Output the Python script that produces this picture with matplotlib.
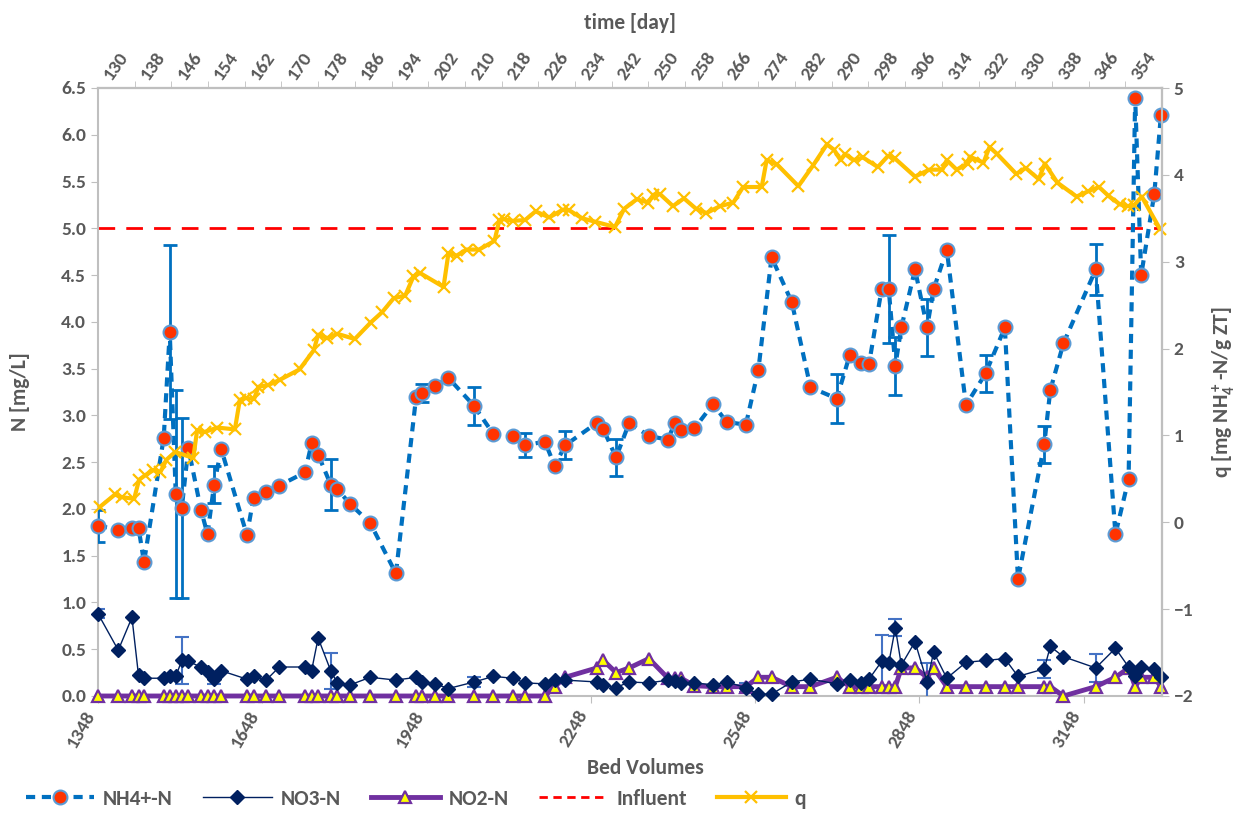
import matplotlib
matplotlib.use('Agg')
import matplotlib.pyplot as plt
from matplotlib.lines import Line2D
from matplotlib import font_manager
import numpy as np

# bold Calibri look-alike if present, else fall back
names = {f.name for f in font_manager.fontManager.ttflist}
fam = [n for n in ['Carlito', 'Lato', 'Roboto'] if n in names] + ['DejaVu Sans']
plt.rcParams['font.family'] = fam
plt.rcParams['font.weight'] = 'bold'
plt.rcParams['mathtext.fontset'] = 'custom'
plt.rcParams['mathtext.rm'] = fam[0] + ':bold'
plt.rcParams['mathtext.default'] = 'rm'

GREY_TXT = '#595959'
GREY_AX = '#BFBFBF'

# Bed volumes of the N samples (shared by NH4, NO3, NO2)
bv = [1348, 1385, 1410, 1422, 1432, 1468, 1479, 1490, 1501, 1513,
      1536, 1548, 1560, 1573, 1620, 1632, 1655, 1679, 1726, 1738,
      1750, 1773, 1785, 1809, 1845, 1892, 1929, 1939, 1963, 1988,
      2035, 2070, 2105, 2128, 2164, 2182, 2201, 2259, 2271, 2294,
      2318, 2354, 2389, 2401, 2413, 2437, 2471, 2496, 2531, 2554,
      2578, 2615, 2649, 2697, 2721, 2742, 2756, 2779, 2792, 2804,
      2815, 2840, 2862, 2874, 2898, 2933, 2969, 3004, 3028, 3076,
      3087, 3111, 3170, 3206, 3230, 3242, 3253, 3277, 3289]

nh4 = [1.82, 1.78, 1.80, 1.80, 1.43, 2.76, 3.89, 2.16, 2.01, 2.65,
       1.99, 1.73, 2.26, 2.64, 1.72, 2.12, 2.18, 2.25, 2.39, 2.70,
       2.58, 2.26, 2.21, 2.05, 1.85, 1.31, 3.20, 3.24, 3.31, 3.40,
       3.10, 2.80, 2.78, 2.68, 2.72, 2.46, 2.68, 2.92, 2.85, 2.55,
       2.92, 2.78, 2.74, 2.92, 2.84, 2.86, 3.12, 2.93, 2.90, 3.49,
       4.69, 4.21, 3.30, 3.18, 3.65, 3.56, 3.55, 4.35, 4.35, 3.53,
       3.94, 4.56, 3.94, 4.35, 4.77, 3.11, 3.45, 3.94, 1.25, 2.69,
       3.27, 3.77, 4.56, 1.73, 2.32, 6.39, 4.50, 5.37, 6.21]

nh4_err = [0.17, 0, 0, 0, 0, 0, 0.93, 1.11, 0.96, 0,
           0, 0, 0.20, 0, 0, 0, 0, 0, 0, 0,
           0, 0.27, 0, 0, 0, 0, 0, 0.10, 0, 0,
           0.20, 0, 0, 0.13, 0, 0, 0.15, 0, 0, 0.20,
           0, 0, 0, 0, 0, 0, 0, 0, 0, 0,
           0, 0, 0, 0.26, 0, 0, 0, 0, 0.58, 0.31,
           0, 0, 0.30, 0, 0, 0, 0.20, 0, 0, 0.20,
           0, 0, 0.27, 0, 0, 0, 0, 0, 0]

no3 = [0.88, 0.49, 0.84, 0.22, 0.19, 0.19, 0.21, 0.21, 0.38, 0.37,
       0.31, 0.26, 0.18, 0.27, 0.18, 0.21, 0.17, 0.31, 0.31, 0.27,
       0.62, 0.27, 0.14, 0.12, 0.20, 0.17, 0.20, 0.15, 0.13, 0.08,
       0.15, 0.21, 0.19, 0.14, 0.13, 0.17, 0.17, 0.15, 0.12, 0.09,
       0.15, 0.14, 0.17, 0.16, 0.14, 0.14, 0.12, 0.15, 0.09, 0.02,
       0.02, 0.15, 0.18, 0.13, 0.17, 0.14, 0.18, 0.37, 0.35, 0.73,
       0.33, 0.58, 0.15, 0.47, 0.19, 0.36, 0.38, 0.40, 0.21, 0.29,
       0.53, 0.42, 0.30, 0.51, 0.31, 0.21, 0.31, 0.29, 0.20]

no3_err = [0.05, 0, 0, 0, 0, 0, 0, 0, 0.25, 0,
           0, 0, 0.05, 0, 0, 0, 0, 0, 0, 0,
           0, 0.19, 0, 0, 0, 0, 0, 0, 0, 0,
           0.05, 0, 0, 0, 0, 0, 0, 0, 0, 0,
           0, 0, 0, 0, 0, 0, 0, 0, 0.05, 0,
           0, 0, 0, 0, 0, 0, 0, 0.28, 0, 0.09,
           0, 0, 0.20, 0, 0, 0, 0, 0, 0, 0.10,
           0, 0, 0.15, 0, 0, 0, 0, 0, 0]

no2 = [0, 0, 0, 0, 0, 0, 0, 0, 0, 0,
       0, 0, 0, 0, 0, 0, 0, 0, 0, 0,
       0, 0, 0, 0, 0, 0, 0, 0, 0, 0,
       0, 0, 0, 0, 0, 0.10, 0.20, 0.30, 0.38, 0.25,
       0.30, 0.40, 0.19, 0.19, 0.19, 0.11, 0.10, 0.10, 0.10, 0.20,
       0.20, 0.10, 0.10, 0.20, 0.10, 0.10, 0.10, 0.10, 0.10, 0.10,
       0.30, 0.30, 0.20, 0.30, 0.10, 0.10, 0.10, 0.10, 0.10, 0.10,
       0.10, 0.00, 0.10, 0.20, 0.30, 0.10, 0.20, 0.20, 0.10]

influent = 5.0

# loading q on the secondary axis
q_bv = [1352, 1379, 1391, 1414, 1423, 1434, 1449, 1462, 1473, 1489,
        1522, 1529, 1543, 1566, 1598, 1607, 1618, 1633, 1641, 1659,
        1680, 1716, 1742, 1750, 1767, 1785, 1817, 1846, 1867, 1888,
        1909, 1924, 1936, 1979, 1988, 2003, 2021, 2044, 2072, 2081,
        2089, 2105, 2128, 2147, 2172, 2197, 2209, 2232, 2256, 2292,
        2309, 2332, 2353, 2362, 2374, 2398, 2418, 2440, 2459, 2484,
        2508, 2526, 2560, 2569, 2588, 2627, 2654, 2679, 2692, 2704,
        2712, 2728, 2745, 2772, 2791, 2803, 2840, 2866, 2890, 2898,
        2916, 2936, 2940, 2965, 2976, 2990, 3025, 3042, 3066, 3077,
        3100, 3135, 3156, 3176, 3193, 3214, 3229, 3240, 3254, 3287]
q_val = [0.18, 0.32, 0.29, 0.27, 0.49, 0.54, 0.60, 0.58, 0.72, 0.81,
         0.74, 1.06, 1.04, 1.09, 1.07, 1.41, 1.43, 1.42, 1.56, 1.58,
         1.64, 1.76, 1.98, 2.16, 2.12, 2.17, 2.11, 2.30, 2.42, 2.58,
         2.61, 2.83, 2.87, 2.71, 3.10, 3.07, 3.14, 3.14, 3.24, 3.48,
         3.49, 3.47, 3.48, 3.58, 3.51, 3.60, 3.59, 3.50, 3.46, 3.40,
         3.61, 3.72, 3.68, 3.77, 3.78, 3.64, 3.73, 3.61, 3.56, 3.64,
         3.68, 3.86, 3.86, 4.17, 4.12, 3.87, 4.11, 4.35, 4.29, 4.17,
         4.24, 4.17, 4.20, 4.09, 4.22, 4.19, 3.98, 4.06, 4.06, 4.17,
         4.06, 4.13, 4.21, 4.14, 4.32, 4.24, 4.01, 4.08, 3.95, 4.13,
         3.91, 3.75, 3.81, 3.86, 3.76, 3.66, 3.64, 3.65, 3.75, 3.38]

days = list(range(130, 355, 8))
bv_ticks = list(range(1348, 3200, 300))

fig = plt.figure(figsize=(12.47, 8.24), dpi=100)
ax = fig.add_axes([98 / 1247, 1 - 696 / 824, (1162 - 98) / 1247, (696 - 88) / 824])

bv_a = np.array(bv)
ne = np.array(nh4_err)
m = ne > 0
ax.errorbar(bv_a[m], np.array(nh4)[m], yerr=ne[m], fmt='none', ecolor='#0070C0',
            elinewidth=2, capsize=5, capthick=2, zorder=3)
ne3 = np.array(no3_err)
m3 = ne3 > 0
ax.errorbar(bv_a[m3], np.array(no3)[m3], yerr=ne3[m3], fmt='none', ecolor='#4472C4',
            elinewidth=1.5, capsize=5, capthick=1.5, zorder=3)

ax.axhline(influent, color='#FF0000', lw=2, dashes=(6, 4), zorder=2)
ax.plot(bv, no2, color='#7030A0', lw=3.5, marker='^', ms=8, mfc='#FFFF00',
        mec='#7030A0', mew=1.6, zorder=4, clip_on=False)
ax.plot(bv, no3, color='#002060', lw=1, marker='D', ms=7, mfc='#002060',
        mec='#002060', zorder=5, clip_on=False)
ax.plot(bv, nh4, color='#0070C0', lw=3, dashes=(2.2, 1.6), marker='o', ms=10,
        mfc='#FF3300', mec='#5B9BD5', mew=1.5, zorder=6, clip_on=False)

ax.set_xlim(1348, 3291)
ax.set_ylim(0, 6.5)
ax.set_yticks(np.arange(0, 6.51, 0.5))
ax.set_yticklabels([f'{v:.1f}' for v in np.arange(0, 6.51, 0.5)])
ax.set_xticks(bv_ticks)
ax.set_xticklabels([str(v) for v in bv_ticks], rotation=60, ha='right')
ax.set_ylabel('N [mg/L]', fontsize=15.5, color=GREY_TXT, fontweight='bold')
ax.yaxis.set_label_coords(-0.064, 0.5)
fig.text(645 / 1247, 1 - 768 / 824, 'Bed Volumes', ha='center', va='center',
         fontsize=15.5, color=GREY_TXT, fontweight='bold')

# secondary y for q
ax2 = ax.twinx()
ax2.plot(q_bv, q_val, color='#FFC000', lw=3, marker='x', ms=8, mew=1.6, zorder=7,
         clip_on=False)
ax2.set_ylim(-2, 5)
ax2.set_yticks(range(-2, 6))
ax2.set_ylabel('q [mg NH$_4^+$-N/g ZT]', fontsize=15.5, color=GREY_TXT,
               fontweight='bold')
ax2.yaxis.set_label_coords(1.046, 0.5)

# top axis: time in days (category-style)
ax3 = ax.twiny()
ax3.set_xlim(126, 358)
ax3.set_xticks(days)
ax3.set_xticklabels([str(d) for d in days], rotation=55)
ax3.set_xticks(np.arange(134, 355, 8), minor=True)
ax3.tick_params(axis='x', which='major', length=0, pad=4)
ax3.tick_params(axis='x', which='minor', length=5, color=GREY_AX)
ax3.set_xlabel('time [day]', fontsize=15.5, color=GREY_TXT, fontweight='bold', labelpad=14)

for a in (ax, ax2, ax3):
    for s in a.spines.values():
        s.set_color(GREY_AX)
        s.set_linewidth(1.5)
    a.tick_params(colors=GREY_TXT, labelsize=14)
    a.tick_params(axis='both', which='both', color=GREY_AX)
    for lab in a.get_xticklabels() + a.get_yticklabels():
        lab.set_fontweight('bold')
for a in (ax2, ax3):
    a.spines['bottom'].set_visible(False)
    a.spines['left'].set_visible(False)
ax.tick_params(axis='x', length=5)
ax.tick_params(axis='y', length=5)
ax2.tick_params(axis='y', length=5)

handles = [
    Line2D([], [], color='#0070C0', lw=3, dashes=(2.2, 1.6), marker='o', ms=10,
           mfc='#FF3300', mec='#5B9BD5', mew=1.5),
    Line2D([], [], color='#002060', lw=1, marker='D', ms=7),
    Line2D([], [], color='#7030A0', lw=3.5, marker='^', ms=8, mfc='#FFFF00',
           mec='#7030A0', mew=1.6),
    Line2D([], [], color='#FF0000', lw=2, dashes=(3, 2)),
    Line2D([], [], color='#FFC000', lw=3, marker='x', ms=8, mew=1.6),
]
labels = ['NH4+-N', 'NO3-N', 'NO2-N', 'Influent', 'q']
leg = fig.legend(handles, labels, loc='lower left', bbox_to_anchor=(0.005, -0.005),
                 ncol=5, frameon=False, handlelength=3.2,
                 columnspacing=1.4, handletextpad=0.4,
                 prop={'weight': 'bold', 'size': 15.5})
for t in leg.get_texts():
    t.set_color(GREY_TXT)

fig.savefig('out.png', dpi=100)
